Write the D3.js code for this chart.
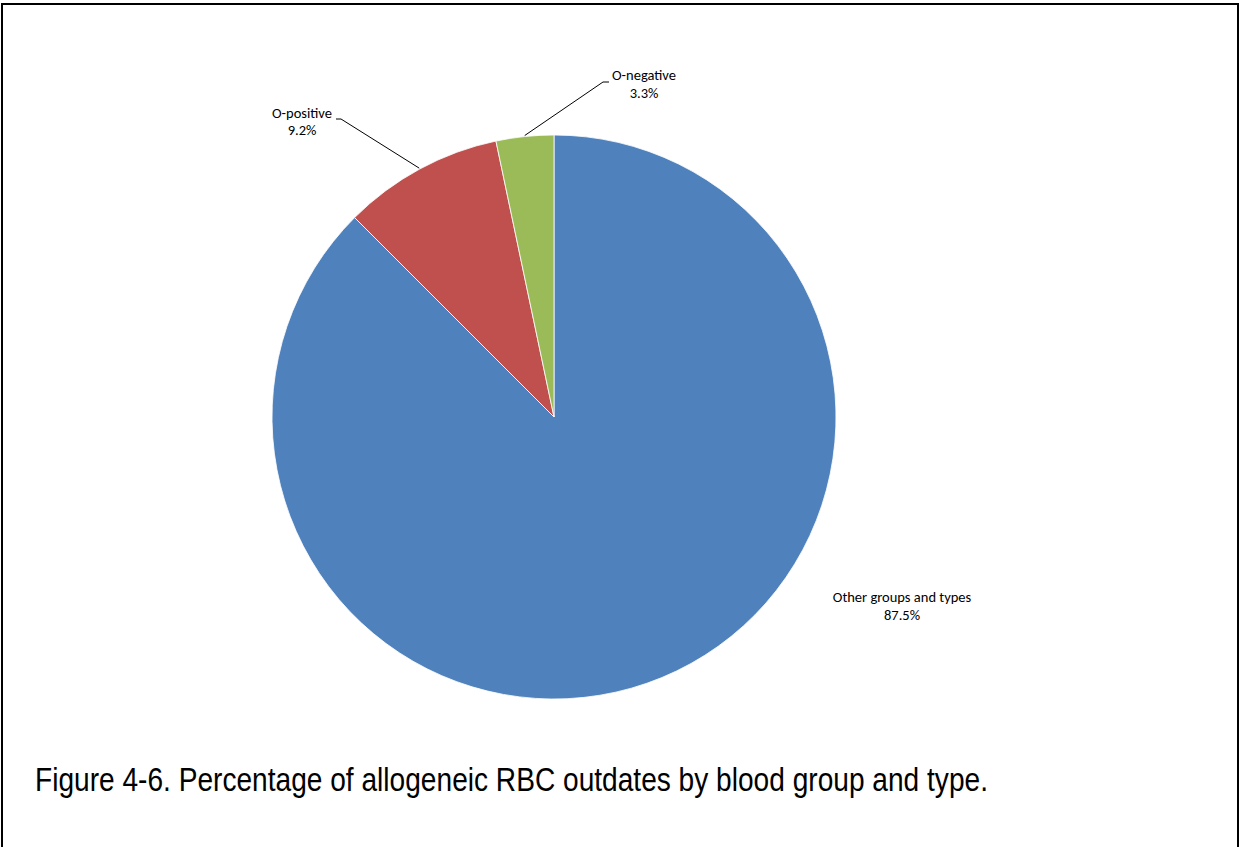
<!DOCTYPE html>
<html><head><meta charset="utf-8">
<script src="https://cdn.jsdelivr.net/npm/d3@7"></script>
<style>html,body{margin:0;padding:0;background:#fff;}</style>
</head><body>
<svg id="c" width="1241" height="847"></svg>
<script>
const categories = ["Other groups and types", "O-positive", "O-negative"];
const values = [87.5, 9.2, 3.3];
const valueLabels = ["87.5%", "9.2%", "3.3%"];
const colors = ["#4F81BD", "#C0504D", "#9BBB59"];
const caption = "Figure 4-6. Percentage of allogeneic RBC outdates by blood group and type.";

const svg = d3.select("#c");
svg.append("rect").attr("x", 2).attr("y", 4).attr("width", 1236).attr("height", 850)
  .attr("fill", "none").attr("stroke", "#000").attr("stroke-width", 2);

const cx = 554, cy = 417, r = 282;
const data = categories.map((c, i) => ({cat: c, v: values[i], lab: valueLabels[i], col: colors[i]}));
const pie = d3.pie().value(d => d.v).sort(null);
const arc = d3.arc().innerRadius(0).outerRadius(r);
const arcs = pie(data);
const g = svg.append("g").attr("transform", `translate(${cx},${cy})`);
g.selectAll("path").data(arcs).join("path")
  .attr("d", arc).attr("fill", d => d.data.col)
  .attr("stroke", "#fff").attr("stroke-width", 0.8);

const labelPos = [
  {x: 902, y: 602, line: null},
  {x: 302, y: 117.5, line: [[336, 119], [341, 119]]},
  {x: 644, y: 80, line: [[603, 82], [609, 82]]}
];
const lineArcR = r + 1;
arcs.forEach((a, i) => {
  const p = labelPos[i];
  if (p.line) {
    const mid = (a.startAngle + a.endAngle) / 2;
    const ex = cx + Math.sin(mid) * lineArcR, ey = cy - Math.cos(mid) * lineArcR;
    const pts = i === 1 ? [p.line[0], p.line[1], [ex, ey]] : [p.line[1], p.line[0], [ex, ey]];
    svg.append("path").attr("d", d3.line()(pts)).attr("fill", "none")
      .attr("stroke", "#000").attr("stroke-width", 1);
  }
  const t = svg.append("text").attr("text-anchor", "middle")
    .attr("font-family", "Carlito, 'Open Sans', 'Liberation Sans', sans-serif")
    .attr("font-size", 14.5).attr("fill", "#000");
  t.append("tspan").attr("x", p.x).attr("y", p.y).text(a.data.cat);
  t.append("tspan").attr("x", p.x).attr("y", p.y + 17.5).text(a.data.lab);
});

svg.append("text").attr("x", 35).attr("y", 790.5)
  .attr("font-family", "'Liberation Sans', Arial, sans-serif")
  .attr("font-size", 32.5).attr("fill", "#000")
  .attr("textLength", 953).attr("lengthAdjust", "spacingAndGlyphs")
  .text(caption);
</script>
</body></html>
